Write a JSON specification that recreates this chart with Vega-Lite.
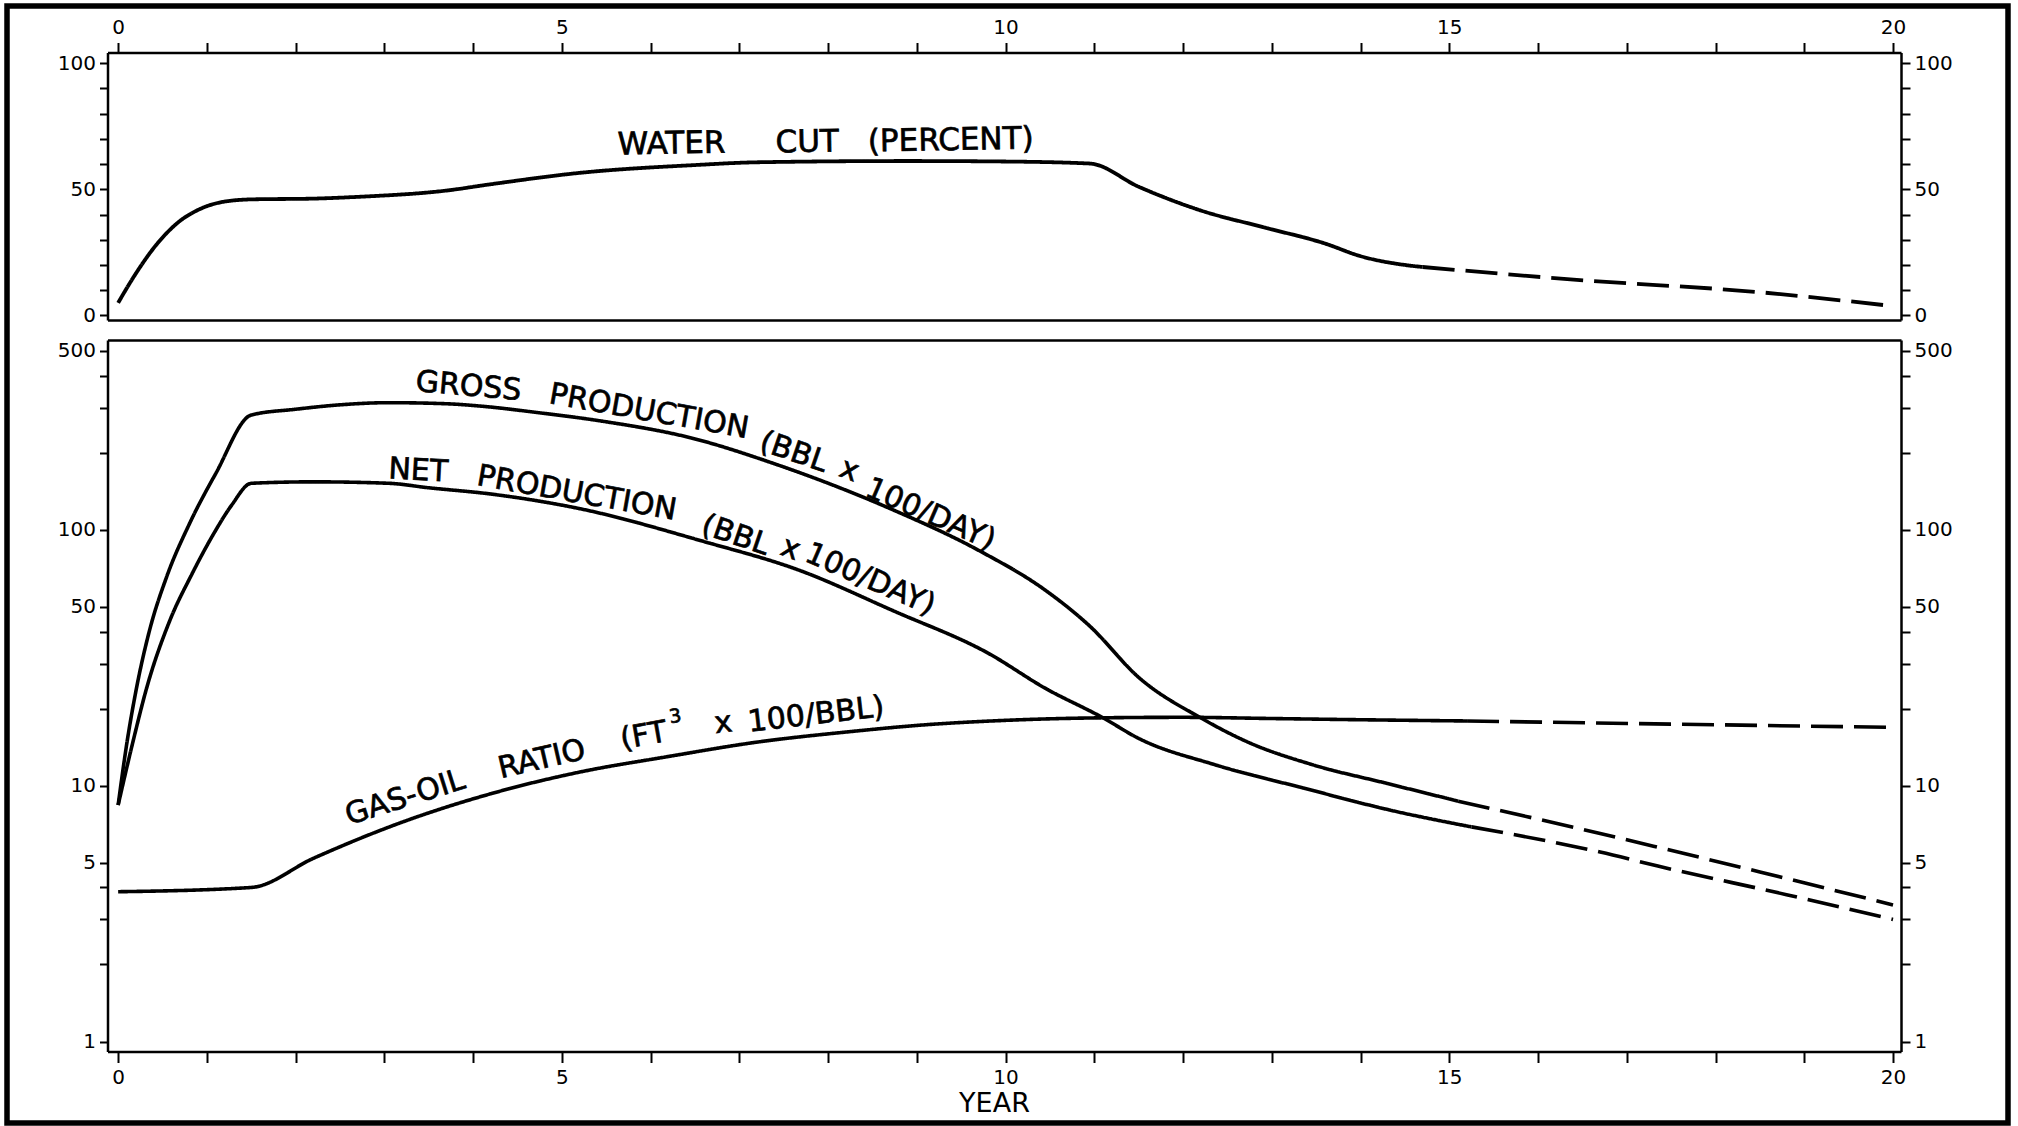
{
  "$schema": "https://vega.github.io/schema/vega-lite/v6.json",
  "autosize": "none",
  "width": 2001,
  "height": 1117,
  "padding": {"left": 7, "top": 6, "right": 10, "bottom": 3},
  "background": "white",
  "config": {
    "view": {"stroke": "black", "strokeWidth": 5.5, "fill": "white"},
    "axis": {"domainColor": "black", "tickColor": "black", "labelColor": "black", "titleColor": "black", "labelFont": "DejaVu Sans", "titleFont": "DejaVu Sans", "labelFontSize": 20, "grid": false, "domainWidth": 2.5, "tickWidth": 2, "labelFlush": false, "labelOverlap": false, "titleFontWeight": "normal"},
    "text": {"font": "DejaVu Sans", "fontSize": 30, "color": "black", "align": "left", "baseline": "alphabetic", "stroke": "black", "strokeWidth": 0.7},
    "line": {"color": "black", "strokeWidth": 3.6, "strokeJoin": "round"}
  },
  "datasets": {
    "watercut": [
      {"year": 0, "value": 5, "segment": "actual"},
      {"year": 0.17, "value": 15, "segment": "actual"},
      {"year": 0.43, "value": 28, "segment": "actual"},
      {"year": 0.68, "value": 37, "segment": "actual"},
      {"year": 0.93, "value": 42.3, "segment": "actual"},
      {"year": 1.18, "value": 45, "segment": "actual"},
      {"year": 1.5, "value": 46, "segment": "actual"},
      {"year": 2.2, "value": 46.3, "segment": "actual"},
      {"year": 2.7, "value": 47, "segment": "actual"},
      {"year": 3.7, "value": 49.5, "segment": "actual"},
      {"year": 4.2, "value": 52, "segment": "actual"},
      {"year": 5.2, "value": 56.5, "segment": "actual"},
      {"year": 6.5, "value": 59.6, "segment": "actual"},
      {"year": 7.2, "value": 60.7, "segment": "actual"},
      {"year": 8.9, "value": 61.2, "segment": "actual"},
      {"year": 10.0, "value": 61, "segment": "actual"},
      {"year": 10.95, "value": 60.2, "segment": "actual"},
      {"year": 11.5, "value": 51, "segment": "actual"},
      {"year": 12.2, "value": 41.6, "segment": "actual"},
      {"year": 12.9, "value": 35, "segment": "actual"},
      {"year": 13.6, "value": 28.5, "segment": "actual"},
      {"year": 14.0, "value": 23.5, "segment": "actual"},
      {"year": 14.5, "value": 20, "segment": "actual"},
      {"year": 14.7, "value": 19.2, "segment": "actual"},
      {"year": 14.7, "value": 19.2, "segment": "projected"},
      {"year": 16.4, "value": 14.2, "segment": "projected"},
      {"year": 18.5, "value": 9.2, "segment": "projected"},
      {"year": 20, "value": 3.7, "segment": "projected"}
    ],
    "production": [
      {"series": "gross", "segment": "actual", "year": 0, "value": 8.4},
      {"series": "gross", "segment": "actual", "year": 0.1, "value": 14.8},
      {"series": "gross", "segment": "actual", "year": 0.2, "value": 23.4},
      {"series": "gross", "segment": "actual", "year": 0.35, "value": 40},
      {"series": "gross", "segment": "actual", "year": 0.55, "value": 66},
      {"series": "gross", "segment": "actual", "year": 0.8, "value": 105},
      {"series": "gross", "segment": "actual", "year": 1.1, "value": 166},
      {"series": "gross", "segment": "actual", "year": 1.5, "value": 281},
      {"series": "gross", "segment": "actual", "year": 2.0, "value": 296},
      {"series": "gross", "segment": "actual", "year": 2.5, "value": 308},
      {"series": "gross", "segment": "actual", "year": 3.05, "value": 314},
      {"series": "gross", "segment": "actual", "year": 3.7, "value": 311},
      {"series": "gross", "segment": "actual", "year": 4.15, "value": 303},
      {"series": "gross", "segment": "actual", "year": 4.7, "value": 288},
      {"series": "gross", "segment": "actual", "year": 5.45, "value": 266},
      {"series": "gross", "segment": "actual", "year": 6.45, "value": 229},
      {"series": "gross", "segment": "actual", "year": 7.4, "value": 181},
      {"series": "gross", "segment": "actual", "year": 8.7, "value": 121},
      {"series": "gross", "segment": "actual", "year": 9.7, "value": 83},
      {"series": "gross", "segment": "actual", "year": 10.45, "value": 58},
      {"series": "gross", "segment": "actual", "year": 10.95, "value": 42},
      {"series": "gross", "segment": "actual", "year": 11.5, "value": 26.5},
      {"series": "gross", "segment": "actual", "year": 12.2, "value": 18.4},
      {"series": "gross", "segment": "actual", "year": 12.75, "value": 14.7},
      {"series": "gross", "segment": "actual", "year": 13.45, "value": 12.1},
      {"series": "gross", "segment": "actual", "year": 14.3, "value": 10.2},
      {"series": "gross", "segment": "actual", "year": 15.1, "value": 8.7},
      {"series": "gross", "segment": "projected", "year": 15.1, "value": 8.7},
      {"series": "gross", "segment": "projected", "year": 16.7, "value": 6.5},
      {"series": "gross", "segment": "projected", "year": 17.3, "value": 5.8},
      {"series": "gross", "segment": "projected", "year": 18.5, "value": 4.6},
      {"series": "gross", "segment": "projected", "year": 20, "value": 3.42},
      {"series": "net", "segment": "actual", "year": 0, "value": 8.4},
      {"series": "net", "segment": "actual", "year": 0.17, "value": 15},
      {"series": "net", "segment": "actual", "year": 0.32, "value": 24},
      {"series": "net", "segment": "actual", "year": 0.58, "value": 44},
      {"series": "net", "segment": "actual", "year": 0.83, "value": 67},
      {"series": "net", "segment": "actual", "year": 1.08, "value": 97},
      {"series": "net", "segment": "actual", "year": 1.28, "value": 125},
      {"series": "net", "segment": "actual", "year": 1.5, "value": 152},
      {"series": "net", "segment": "actual", "year": 2.2, "value": 154},
      {"series": "net", "segment": "actual", "year": 3.05, "value": 152},
      {"series": "net", "segment": "actual", "year": 3.5, "value": 146},
      {"series": "net", "segment": "actual", "year": 4.2, "value": 138},
      {"series": "net", "segment": "actual", "year": 5.2, "value": 121},
      {"series": "net", "segment": "actual", "year": 6.6, "value": 90},
      {"series": "net", "segment": "actual", "year": 7.65, "value": 70},
      {"series": "net", "segment": "actual", "year": 8.75, "value": 48},
      {"series": "net", "segment": "actual", "year": 9.8, "value": 33},
      {"series": "net", "segment": "actual", "year": 10.45, "value": 24},
      {"series": "net", "segment": "actual", "year": 11.1, "value": 18.4},
      {"series": "net", "segment": "actual", "year": 11.5, "value": 15.3},
      {"series": "net", "segment": "actual", "year": 12.35, "value": 12.1},
      {"series": "net", "segment": "actual", "year": 13.35, "value": 9.8},
      {"series": "net", "segment": "actual", "year": 14.35, "value": 8.0},
      {"series": "net", "segment": "actual", "year": 15.25, "value": 6.9},
      {"series": "net", "segment": "projected", "year": 15.25, "value": 6.9},
      {"series": "net", "segment": "projected", "year": 16.7, "value": 5.5},
      {"series": "net", "segment": "projected", "year": 17.35, "value": 4.85},
      {"series": "net", "segment": "projected", "year": 18.8, "value": 3.75},
      {"series": "net", "segment": "projected", "year": 20, "value": 3.0},
      {"series": "gor", "segment": "actual", "year": 0, "value": 3.85},
      {"series": "gor", "segment": "actual", "year": 1.5, "value": 4.0},
      {"series": "gor", "segment": "actual", "year": 2.2, "value": 5.2},
      {"series": "gor", "segment": "actual", "year": 3.2, "value": 7.2},
      {"series": "gor", "segment": "actual", "year": 4.2, "value": 9.3},
      {"series": "gor", "segment": "actual", "year": 5.2, "value": 11.3},
      {"series": "gor", "segment": "actual", "year": 6.2, "value": 13.0},
      {"series": "gor", "segment": "actual", "year": 7.2, "value": 14.8},
      {"series": "gor", "segment": "actual", "year": 8.2, "value": 16.2},
      {"series": "gor", "segment": "actual", "year": 9.1, "value": 17.3},
      {"series": "gor", "segment": "actual", "year": 10.0, "value": 18.0},
      {"series": "gor", "segment": "actual", "year": 11.0, "value": 18.4},
      {"series": "gor", "segment": "actual", "year": 12.0, "value": 18.5},
      {"series": "gor", "segment": "actual", "year": 13.0, "value": 18.3},
      {"series": "gor", "segment": "actual", "year": 14.0, "value": 18.1},
      {"series": "gor", "segment": "actual", "year": 15.2, "value": 17.9},
      {"series": "gor", "segment": "projected", "year": 15.2, "value": 17.9},
      {"series": "gor", "segment": "projected", "year": 17.5, "value": 17.4},
      {"series": "gor", "segment": "projected", "year": 20, "value": 16.9}
    ],
    "labels": [
      {"id": "water", "text": "WATER", "year": 5.63, "value": 63.8},
      {"id": "water", "text": "CUT", "year": 7.41, "value": 64.6},
      {"id": "water", "text": "(PERCENT)", "year": 8.45, "value": 65.0},
      {"id": "gross1", "text": "GROSS", "year": 3.345, "value": 349},
      {"id": "net1", "text": "NET", "year": 3.04, "value": 159},
      {"id": "prod", "text": "PRODUCTION", "year": 4.844, "value": 313},
      {"id": "prod", "text": "PRODUCTION", "year": 4.03, "value": 150},
      {"id": "bbl", "text": "(BBL", "year": 7.21, "value": 206},
      {"id": "bbl", "text": "(BBL", "year": 6.555, "value": 97.5},
      {"id": "times", "text": "x", "year": 8.11, "value": 163},
      {"id": "times", "text": "x", "year": 7.447, "value": 80.5},
      {"id": "day", "text": "100/DAY)", "year": 8.40, "value": 136.5},
      {"id": "day", "text": "100/DAY)", "year": 7.72, "value": 76},
      {"id": "gor1", "text": "GAS-OIL", "year": 2.60, "value": 7.02},
      {"id": "gor2", "text": "RATIO", "year": 4.31, "value": 10.69},
      {"id": "gor3", "text": "(FT", "year": 5.68, "value": 13.92},
      {"id": "gor4", "text": "3", "year": 6.22, "value": 17.54},
      {"id": "gor5", "text": "x", "year": 6.73, "value": 16.03},
      {"id": "gor5", "text": "100/BBL)", "year": 7.11, "value": 16.26}
    ]
  },
  "resolve": {"scale": {"y": "independent"}, "axis": {"x": "independent", "y": "independent"}},
  "layer": [
    {
      "data": {"name": "watercut"},
      "mark": {"type": "line", "interpolate": "monotone", "strokeWidth": 3.8},
      "encoding": {
        "x": {"field": "year", "type": "quantitative", "scale": {"domain": [-0.12, 20.09], "range": [100.5, 1894], "nice": false, "zero": false},
          "axis": {"orient": "top", "offset": -46.5, "values": [0,1,2,3,4,5,6,7,8,9,10,11,12,13,14,15,16,17,18,19,20], "labelExpr": "datum.value % 5 === 0 ? datum.label : ''", "tickSize": 10, "labelPadding": 5, "title": null}},
        "y": {"field": "value", "type": "quantitative", "scale": {"domain": [-1.8, 104.2], "range": [314, 46.5], "nice": false, "zero": false},
          "axis": {"orient": "left", "offset": -100.5, "values": [0,10,20,30,40,50,60,70,80,90,100], "labelExpr": "datum.value % 50 === 0 ? datum.label : ''", "tickSize": 8, "labelPadding": 4, "title": null}},
        "strokeDash": {"field": "segment", "type": "nominal", "scale": {"domain": ["actual", "projected"], "range": [[1, 0], [32, 11]]}, "legend": null}
      }
    },
    {
      "data": {"name": "labels"},
      "transform": [{"filter": "datum.id === 'water'"}],
      "mark": {"type": "text", "angle": -1, "fontSize": 31},
      "encoding": {
        "x": {"field": "year", "type": "quantitative", "scale": {"domain": [-0.12, 20.09], "range": [100.5, 1894], "nice": false, "zero": false},
          "axis": {"orient": "bottom", "offset": -803, "ticks": false, "labels": false, "title": null}},
        "y": {"field": "value", "type": "quantitative", "scale": {"domain": [-1.8, 104.2], "range": [314, 46.5], "nice": false, "zero": false},
          "axis": {"orient": "right", "offset": -107, "values": [0,10,20,30,40,50,60,70,80,90,100], "labelExpr": "datum.value % 50 === 0 ? datum.label : ''", "tickSize": 9, "labelPadding": 4, "title": null}},
        "text": {"field": "text"}
      }
    },
    {
      "data": {"name": "production"},
      "mark": {"type": "line", "interpolate": "monotone"},
      "encoding": {
        "x": {"field": "year", "type": "quantitative", "scale": {"domain": [-0.12, 20.09], "range": [100.5, 1894], "nice": false, "zero": false},
          "axis": {"orient": "bottom", "offset": -71.5, "values": [0,1,2,3,4,5,6,7,8,9,10,11,12,13,14,15,16,17,18,19,20], "labelExpr": "datum.value % 5 === 0 ? datum.label : ''", "tickSize": 11, "labelPadding": 5, "title": "YEAR", "titleFontSize": 27, "titlePadding": 3, "titleX": 987}},
        "y": {"field": "value", "type": "quantitative", "scale": {"type": "log", "domain": [0.914, 552], "range": [1045.5, 334], "nice": false},
          "axis": {"orient": "left", "offset": -100.5, "values": [1,2,3,4,5,10,20,30,40,50,100,200,300,400,500], "format": "d", "labelExpr": "indexof([1,5,10,50,100,500], datum.value) >= 0 ? datum.label : ''", "tickSize": 8, "labelPadding": 4, "title": null}},
        "detail": {"field": "series", "type": "nominal"},
        "strokeDash": {"field": "segment", "type": "nominal", "scale": {"domain": ["actual", "projected"], "range": [[1, 0], [32, 11]]}, "legend": null}
      }
    },
    {
      "data": {"name": "labels"},
      "transform": [{"filter": "datum.id === 'gross1'"}],
      "mark": {"type": "text", "angle": 5},
      "encoding": {
        "x": {"field": "year", "type": "quantitative", "scale": {"domain": [-0.12, 20.09], "range": [100.5, 1894], "nice": false, "zero": false},
          "axis": {"orient": "top", "offset": -334, "ticks": false, "labels": false, "title": null}},
        "y": {"field": "value", "type": "quantitative", "scale": {"type": "log", "domain": [0.914, 552], "range": [1045.5, 334], "nice": false},
          "axis": {"orient": "right", "offset": -107, "values": [1,2,3,4,5,10,20,30,40,50,100,200,300,400,500], "format": "d", "labelExpr": "indexof([1,5,10,50,100,500], datum.value) >= 0 ? datum.label : ''", "tickSize": 9, "labelPadding": 4, "title": null}},
        "text": {"field": "text"}
      }
    },
    {
      "data": {"name": "labels"},
      "transform": [{"filter": "datum.id === 'net1'"}],
      "mark": {"type": "text", "angle": 3},
      "encoding": {
        "x": {"field": "year", "type": "quantitative", "axis": null},
        "y": {"field": "value", "type": "quantitative", "scale": {"type": "log", "domain": [0.914, 552], "range": [1045.5, 334], "nice": false}, "axis": null},
        "text": {"field": "text"}
      }
    },
    {
      "data": {"name": "labels"},
      "transform": [{"filter": "datum.id === 'prod'"}],
      "mark": {"type": "text", "angle": 10},
      "encoding": {
        "x": {"field": "year", "type": "quantitative", "axis": null},
        "y": {"field": "value", "type": "quantitative", "scale": {"type": "log", "domain": [0.914, 552], "range": [1045.5, 334], "nice": false}, "axis": null},
        "text": {"field": "text"}
      }
    },
    {
      "data": {"name": "labels"},
      "transform": [{"filter": "datum.id === 'bbl'"}],
      "mark": {"type": "text", "angle": 19},
      "encoding": {
        "x": {"field": "year", "type": "quantitative", "axis": null},
        "y": {"field": "value", "type": "quantitative", "scale": {"type": "log", "domain": [0.914, 552], "range": [1045.5, 334], "nice": false}, "axis": null},
        "text": {"field": "text"}
      }
    },
    {
      "data": {"name": "labels"},
      "transform": [{"filter": "datum.id === 'times'"}],
      "mark": {"type": "text", "angle": 21},
      "encoding": {
        "x": {"field": "year", "type": "quantitative", "axis": null},
        "y": {"field": "value", "type": "quantitative", "scale": {"type": "log", "domain": [0.914, 552], "range": [1045.5, 334], "nice": false}, "axis": null},
        "text": {"field": "text"}
      }
    },
    {
      "data": {"name": "labels"},
      "transform": [{"filter": "datum.id === 'day'"}],
      "mark": {"type": "text", "angle": 23.5},
      "encoding": {
        "x": {"field": "year", "type": "quantitative", "axis": null},
        "y": {"field": "value", "type": "quantitative", "scale": {"type": "log", "domain": [0.914, 552], "range": [1045.5, 334], "nice": false}, "axis": null},
        "text": {"field": "text"}
      }
    },
    {
      "data": {"name": "labels"},
      "transform": [{"filter": "datum.id === 'gor1'"}],
      "mark": {"type": "text", "angle": -17.5},
      "encoding": {
        "x": {"field": "year", "type": "quantitative", "axis": null},
        "y": {"field": "value", "type": "quantitative", "scale": {"type": "log", "domain": [0.914, 552], "range": [1045.5, 334], "nice": false}, "axis": null},
        "text": {"field": "text"}
      }
    },
    {
      "data": {"name": "labels"},
      "transform": [{"filter": "datum.id === 'gor2'"}],
      "mark": {"type": "text", "angle": -13},
      "encoding": {
        "x": {"field": "year", "type": "quantitative", "axis": null},
        "y": {"field": "value", "type": "quantitative", "scale": {"type": "log", "domain": [0.914, 552], "range": [1045.5, 334], "nice": false}, "axis": null},
        "text": {"field": "text"}
      }
    },
    {
      "data": {"name": "labels"},
      "transform": [{"filter": "datum.id === 'gor3'"}],
      "mark": {"type": "text", "angle": -10},
      "encoding": {
        "x": {"field": "year", "type": "quantitative", "axis": null},
        "y": {"field": "value", "type": "quantitative", "scale": {"type": "log", "domain": [0.914, 552], "range": [1045.5, 334], "nice": false}, "axis": null},
        "text": {"field": "text"}
      }
    },
    {
      "data": {"name": "labels"},
      "transform": [{"filter": "datum.id === 'gor4'"}],
      "mark": {"type": "text", "angle": -9, "fontSize": 19},
      "encoding": {
        "x": {"field": "year", "type": "quantitative", "axis": null},
        "y": {"field": "value", "type": "quantitative", "scale": {"type": "log", "domain": [0.914, 552], "range": [1045.5, 334], "nice": false}, "axis": null},
        "text": {"field": "text"}
      }
    },
    {
      "data": {"name": "labels"},
      "transform": [{"filter": "datum.id === 'gor5'"}],
      "mark": {"type": "text", "angle": -6.5},
      "encoding": {
        "x": {"field": "year", "type": "quantitative", "axis": null},
        "y": {"field": "value", "type": "quantitative", "scale": {"type": "log", "domain": [0.914, 552], "range": [1045.5, 334], "nice": false}, "axis": null},
        "text": {"field": "text"}
      }
    }
  ]
}
